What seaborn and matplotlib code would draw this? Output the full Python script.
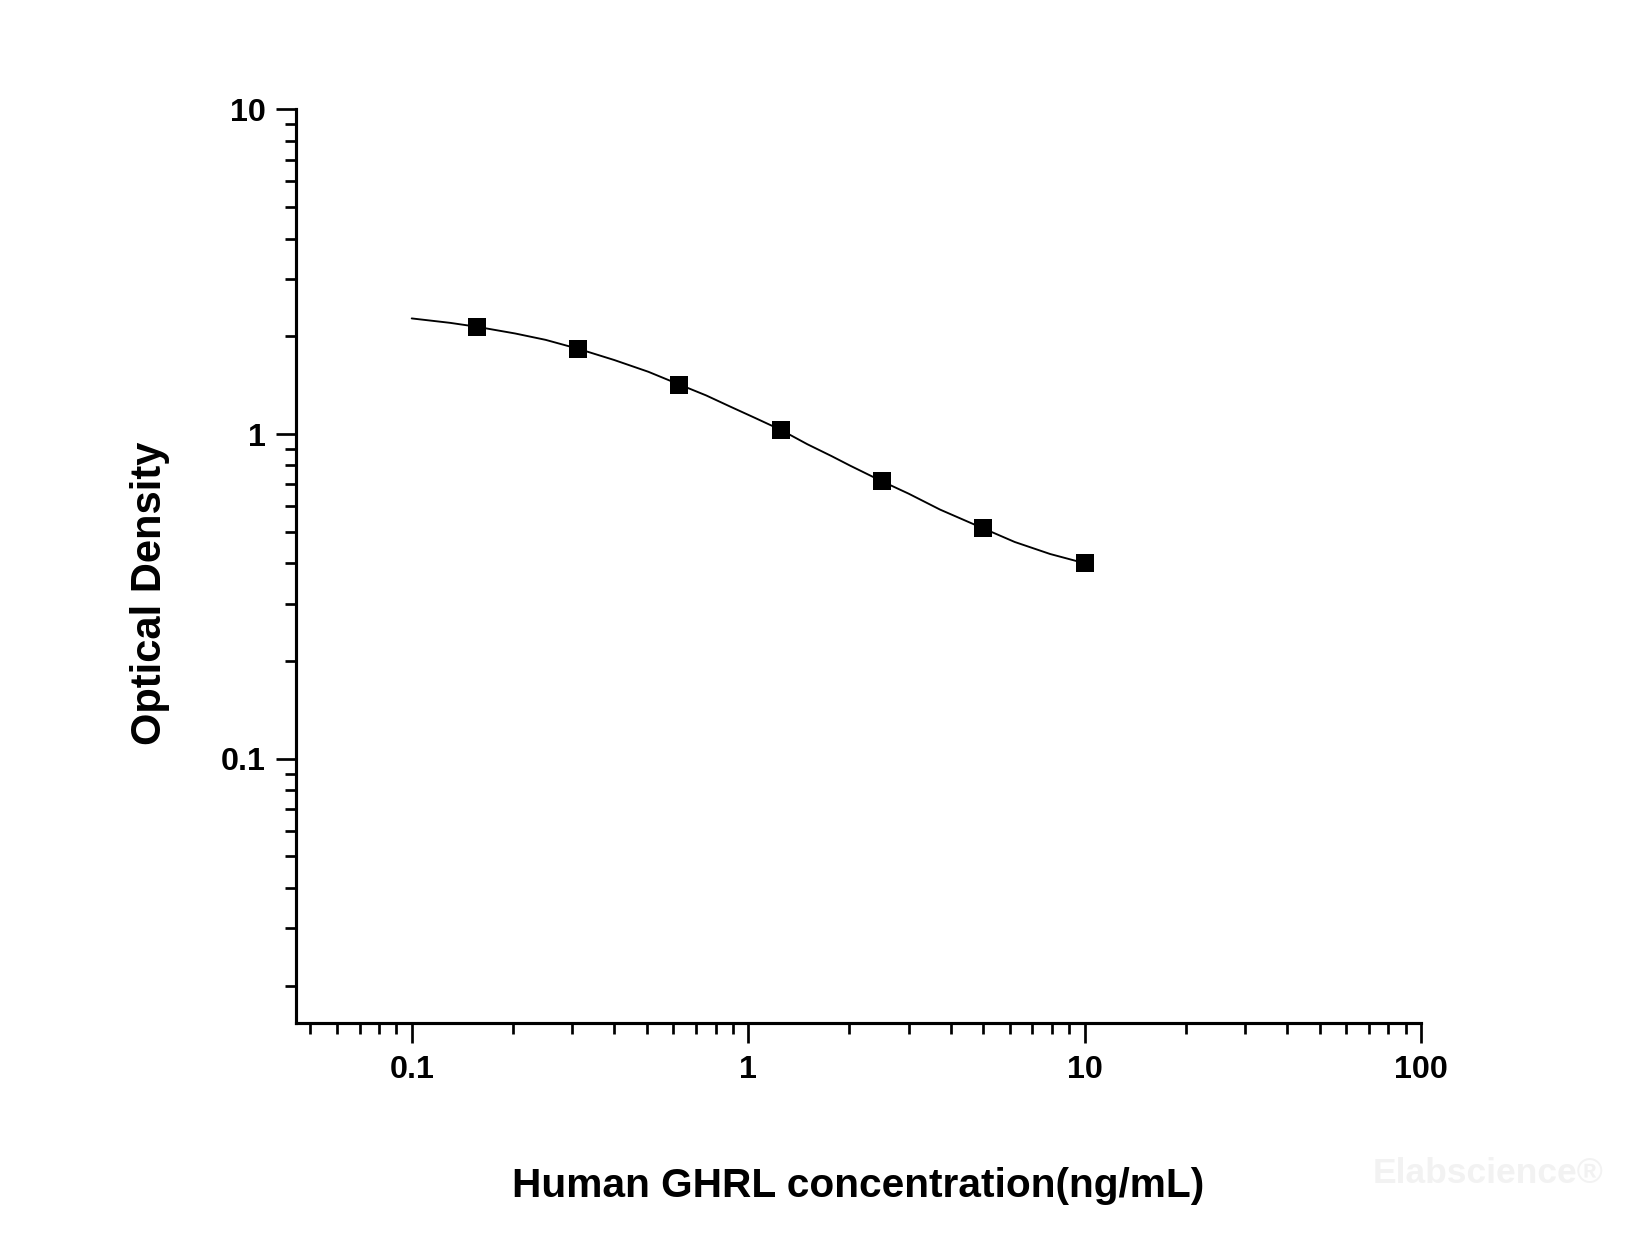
import numpy as np
import pandas as pd
import seaborn as sns
import matplotlib
matplotlib.use("Agg")
from matplotlib import pyplot as plt
from matplotlib.ticker import LogLocator, NullFormatter, FixedFormatter, FixedLocator

# standard points
conc = [0.156, 0.3125, 0.625, 1.25, 2.5, 5, 10]
od = [2.14, 1.83, 1.42, 1.03, 0.715, 0.512, 0.400]

# fitted curve
curve_x = [0.1, 0.13, 0.156, 0.203, 0.25, 0.3125, 0.4, 0.505, 0.625, 0.75, 0.884,
           1.05, 1.25, 1.5, 1.77, 2.01, 2.5, 3.0, 3.72, 4.3, 5, 6.2, 7.9, 10]
curve_y = [2.27, 2.20, 2.14, 2.04, 1.95, 1.83, 1.69, 1.555, 1.42, 1.315, 1.215,
           1.12, 1.03, 0.93, 0.855, 0.799, 0.715, 0.655, 0.585, 0.548, 0.512, 0.465, 0.427, 0.400]

xlabel = "Human GHRL concentration(ng/mL)"
ylabel = "Optical Density"

sns.set_style("ticks")
plt.rcParams['font.family'] = ['Liberation Sans', 'DejaVu Sans']
plt.rcParams['font.weight'] = 'bold'
plt.rcParams['text.color'] = 'black'
plt.rcParams['axes.labelcolor'] = 'black'

fig = plt.figure(figsize=(11, 8.2467), dpi=150)
ax = fig.add_axes([0.1794, 0.1730, 0.8612 - 0.1794, 0.9116 - 0.1730])

df_curve = pd.DataFrame({'x': curve_x, 'y': curve_y})
df_pts = pd.DataFrame({'x': conc, 'y': od})
sns.lineplot(data=df_curve, x='x', y='y', ax=ax, color='black', linewidth=0.9, sort=False)
sns.scatterplot(data=df_pts, x='x', y='y', ax=ax, color='black', marker='s', s=70,
                linewidth=0, zorder=3)

ax.set_xscale('log')
ax.set_yscale('log')
ax.set_xlim(0.0453, 100)
ax.set_ylim(0.01534, 10)

ax.xaxis.set_major_locator(FixedLocator([0.1, 1, 10, 100]))
ax.xaxis.set_major_formatter(FixedFormatter(['0.1', '1', '10', '100']))
ax.xaxis.set_minor_locator(LogLocator(base=10, subs=np.arange(2, 10), numticks=20))
ax.xaxis.set_minor_formatter(NullFormatter())
ax.yaxis.set_major_locator(FixedLocator([0.1, 1, 10]))
ax.yaxis.set_major_formatter(FixedFormatter(['0.1', '1', '10']))
ax.yaxis.set_minor_locator(LogLocator(base=10, subs=np.arange(2, 10), numticks=20))
ax.yaxis.set_minor_formatter(NullFormatter())

for side in ['top', 'right']:
    ax.spines[side].set_visible(False)
for side in ['left', 'bottom']:
    ax.spines[side].set_linewidth(1.5)
    ax.spines[side].set_color('black')

ax.tick_params(which='major', length=9.5, width=1.3, direction='out', labelsize=15.5,
               colors='black')
ax.tick_params(which='minor', length=5.2, width=1.3, direction='out', colors='black')
ax.tick_params(axis='x', which='major', pad=6)
ax.tick_params(axis='y', which='major', pad=5)
for lab in ax.get_xticklabels() + ax.get_yticklabels():
    lab.set_fontweight('bold')

ax.set_xlabel(xlabel, fontsize=19.5, fontweight='bold')
ax.set_ylabel(ylabel, fontsize=20, fontweight='bold')
ax.xaxis.set_label_coords(0.5, -0.158)
ax.yaxis.set_label_coords(-0.112, 0.47)

fig.text(0.9715, 0.038, "Elabscience\u00ae", fontsize=17, color='#f2f2f2',
         ha='right', va='bottom', fontweight='bold')

fig.savefig('out.png', dpi=150)
